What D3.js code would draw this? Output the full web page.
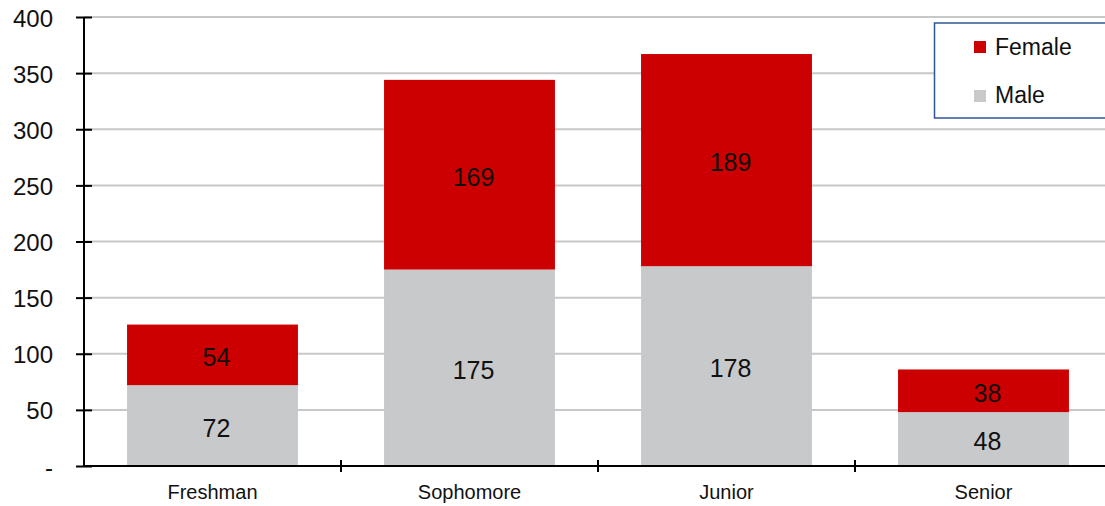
<!DOCTYPE html>
<html><head><meta charset="utf-8">
<script src="https://cdn.jsdelivr.net/npm/d3@7"></script>
<style>body{margin:0;background:#fff}svg{display:block;font-family:"Liberation Sans",Arial,sans-serif}</style>
</head><body>
<svg id="c" width="1105" height="506"></svg>
<script>
const categories = ["Freshman","Sophomore","Junior","Senior"];
const male = [72,175,178,48];
const female = [54,169,189,38];
const yTicks = [0,50,100,150,200,250,300,350,400];
const seriesNames = ["Female","Male"];
const colors = {Female:"#CC0000", Male:"#C8C9CB"};

const svg = d3.select("#c");
const x0 = 84, x1 = 1112, yTop = 17, yBot = 466;
const x = d3.scaleBand().domain(categories).range([x0,x1]).paddingInner(0.335).paddingOuter(0.1675);
const y = d3.scaleLinear().domain([0,400]).range([yBot,yTop]);

// gridlines
svg.append("g").selectAll("line").data(yTicks.filter(d=>d>0)).join("line")
  .attr("x1",x0).attr("x2",1105).attr("y1",d=>y(d)).attr("y2",d=>y(d))
  .attr("stroke","#c8c8c8").attr("stroke-width",2);

const data = categories.map((c,i)=>({cat:c, Male:male[i], Female:female[i]}));
const stack = d3.stack().keys(["Male","Female"])(data);
const g = svg.append("g");
stack.forEach(s=>{
  g.append("g").selectAll("rect").data(s).join("rect")
    .attr("x",d=>x(d.data.cat)).attr("width",x.bandwidth())
    .attr("y",d=>y(d[1])).attr("height",d=>y(d[0])-y(d[1]))
    .attr("fill",colors[s.key]);
  g.append("g").selectAll("text").data(s).join("text")
    .attr("x",d=>x(d.data.cat)+x.bandwidth()/2+4)
    .attr("y",d=>y((d[0]+d[1])/2)+11)
    .attr("text-anchor","middle").attr("font-size",25).attr("fill","#111")
    .text(d=>d[1]-d[0]);
});

// y axis
const ya = svg.append("g").attr("transform",`translate(${x0},0)`)
  .call(d3.axisLeft(y).tickValues(yTicks).tickSize(8).tickFormat(d=>d===0?"-":d));
ya.select(".domain").remove();
ya.selectAll(".tick line").attr("x1",-8).attr("x2",8).attr("stroke","#000").attr("stroke-width",2);
ya.selectAll(".tick text").attr("x",-31).attr("dy",null).attr("y",9).attr("font-size",24).attr("fill","#111").attr("font-family","Liberation Sans, Arial, sans-serif");
svg.append("line").attr("x1",x0).attr("x2",x0).attr("y1",yTop).attr("y2",yBot).attr("stroke","#000").attr("stroke-width",2);

// x axis
svg.append("line").attr("x1",x0).attr("x2",1105).attr("y1",yBot).attr("y2",yBot).attr("stroke","#000").attr("stroke-width",2);
const bounds = categories.map((c,i)=>x0 + i*(x1-x0)/categories.length);
svg.append("g").selectAll("line").data(bounds.slice(1)).join("line")
  .attr("x1",d=>d).attr("x2",d=>d).attr("y1",yBot-6).attr("y2",yBot+6).attr("stroke","#000").attr("stroke-width",2);
svg.append("g").selectAll("text").data(categories).join("text")
  .attr("x",d=>x(d)+x.bandwidth()/2).attr("y",499).attr("text-anchor","middle")
  .attr("font-size",20).attr("fill","#111").text(d=>d);

// legend
const lg = svg.append("g");
lg.append("rect").attr("x",934.5).attr("y",23).attr("width",180).attr("height",95)
  .attr("fill","#fff").attr("stroke","#2F5597").attr("stroke-width",1.5);
seriesNames.forEach((n,i)=>{
  lg.append("rect").attr("x",974).attr("y",41+i*49).attr("width",12).attr("height",12).attr("fill",colors[n]);
  lg.append("text").attr("x",995).attr("y",55+i*48).attr("font-size",23).attr("fill","#111").text(n);
});
</script>
</body></html>
